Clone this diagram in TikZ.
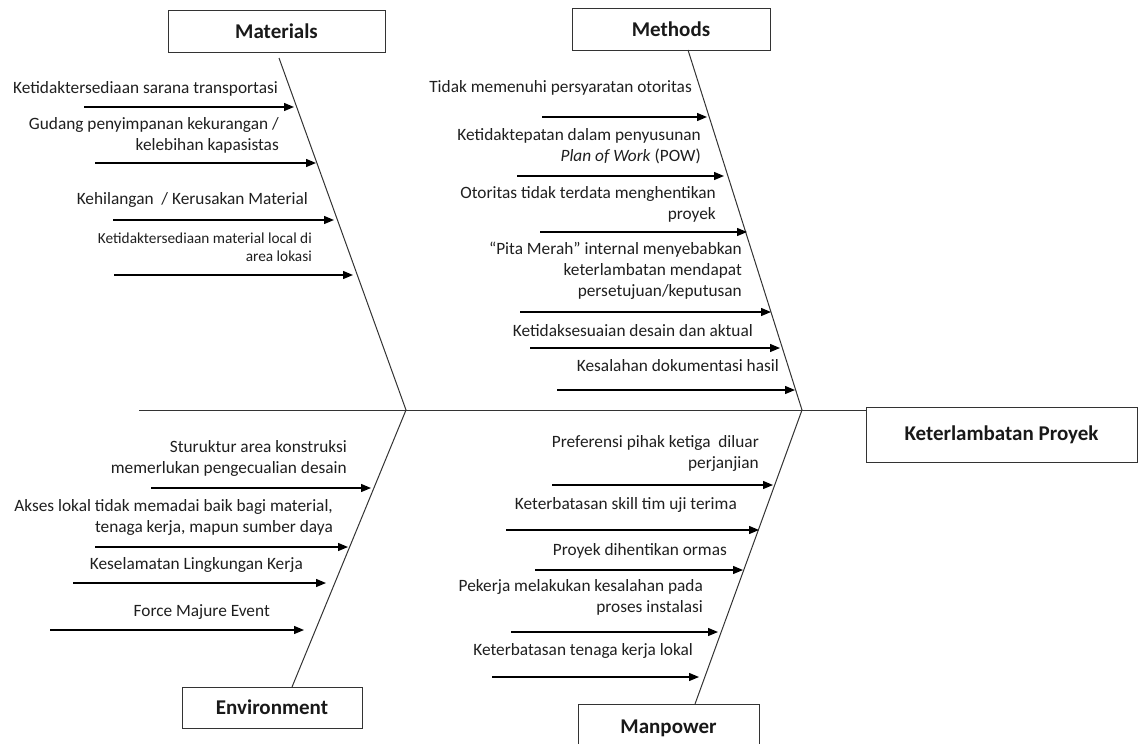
\documentclass[tikz,border=0pt]{standalone}
\usepackage{fontspec}
\setmainfont{Carlito}
\usetikzlibrary{arrows.meta}
\begin{document}
\begin{tikzpicture}[x=1pt,y=-1pt,
  catbox/.style={draw=black!80,line width=1pt,rectangle,inner sep=0pt,font=\fontsize{21}{24}\selectfont\bfseries,text=black!90},
  bone/.style={draw=black!80,line width=1pt},
  cause/.style={-{Triangle[length=10pt,width=8pt]},line width=1.3pt,draw=black},
  lbl/.style={anchor=east,align=right,inner sep=0pt,font=\fontsize{17.3}{21}\selectfont,text=black!88},
  slbl/.style={anchor=east,align=right,inner sep=0pt,font=\fontsize{15.3}{18}\selectfont,text=black!88}]
\useasboundingbox (0,0) rectangle (1141,744);
% category boxes
\node[catbox,minimum width=217pt,minimum height=42pt] (mat) at (276.5,31) {Materials};
\node[catbox,minimum width=198pt,minimum height=42pt] (met) at (671,29) {Methods};
\node[catbox,minimum width=180pt,minimum height=41pt] (env) at (272,707.5) {Environment};
\node[catbox,minimum width=181pt,minimum height=48pt] (man) at (668.5,728) {Manpower};
\node[catbox,minimum width=271pt,minimum height=55pt] (res) at (1001.5,434.5) {Keterlambatan Proyek};
% spine and bones
\coordinate (tail) at (139,410);
\coordinate (j1) at (406,410);
\coordinate (j2) at (802,410);
\coordinate (head) at (866,410);
\coordinate (mtop) at (279,58);
\coordinate (etop) at (292,687);
\coordinate (ttop) at (688,50);
\coordinate (ptop) at (695,704);
\draw[bone] (tail) -- (head);
\draw[bone] (mtop) -- (j1) -- (etop);
\draw[bone] (ttop) -- (j2) -- (ptop);
% Materials causes
\node[lbl] (ma1) at (278,89) {Ketidaktersediaan sarana transportasi};
\node[lbl] (ma2) at (279,135.5) {Gudang penyimpanan kekurangan /\\kelebihan kapasistas};
\node[lbl] (ma3) at (308,200) {Kehilangan\ \ / Kerusakan Material};
\node[slbl] (ma4) at (312,247) {Ketidaktersediaan material local di\\area lokasi};
\coordinate (ma1s) at (84,107);  \coordinate (ma1e) at (294,107);
\coordinate (ma2s) at (95,163);  \coordinate (ma2e) at (316,163);
\coordinate (ma3s) at (113,220); \coordinate (ma3e) at (334,220);
\coordinate (ma4s) at (114,275); \coordinate (ma4e) at (353,275);
\draw[cause] (ma1s) -- (ma1e);
\draw[cause] (ma2s) -- (ma2e);
\draw[cause] (ma3s) -- (ma3e);
\draw[cause] (ma4s) -- (ma4e);
% Methods causes
\node[lbl] (me1) at (692,88) {Tidak memenuhi persyaratan otoritas};
\node[lbl] (me2) at (701,146.5) {Ketidaktepatan dalam penyusunan\\\textit{Plan of Work} (POW)};
\node[lbl] (me3) at (716,204.5) {Otoritas tidak terdata menghentikan\\proyek};
\node[lbl] (me4) at (742,271) {“Pita Merah” internal menyebabkan\\keterlambatan mendapat\\persetujuan/keputusan};
\node[lbl] (me5) at (753,331) {Ketidaksesuaian desain dan aktual};
\node[lbl] (me6) at (779,366) {Kesalahan dokumentasi hasil};
\coordinate (me1s) at (542,117); \coordinate (me1e) at (707,117);
\coordinate (me2s) at (517,176); \coordinate (me2e) at (724,176);
\coordinate (me3s) at (540,232); \coordinate (me3e) at (747,232);
\coordinate (me4s) at (520,312); \coordinate (me4e) at (771,312);
\coordinate (me5s) at (530,348); \coordinate (me5e) at (780,348);
\coordinate (me6s) at (557,390); \coordinate (me6e) at (795,390);
\draw[cause] (me1s) -- (me1e);
\draw[cause] (me2s) -- (me2e);
\draw[cause] (me3s) -- (me3e);
\draw[cause] (me4s) -- (me4e);
\draw[cause] (me5s) -- (me5e);
\draw[cause] (me6s) -- (me6e);
% Environment causes
\node[lbl] (en1) at (347,458.5) {Sturuktur area konstruksi\\memerlukan pengecualian desain};
\node[lbl] (en2) at (333,517) {Akses lokal tidak memadai baik bagi material,\\tenaga kerja, mapun sumber daya};
\node[lbl] (en3) at (303,565) {Keselamatan Lingkungan Kerja};
\node[lbl] (en4) at (270,612) {Force Majure Event};
\coordinate (en1s) at (151,488); \coordinate (en1e) at (371,488);
\coordinate (en2s) at (95,547);  \coordinate (en2e) at (348,547);
\coordinate (en3s) at (73,583);  \coordinate (en3e) at (326,583);
\coordinate (en4s) at (50,630);  \coordinate (en4e) at (304,630);
\draw[cause] (en1s) -- (en1e);
\draw[cause] (en2s) -- (en2e);
\draw[cause] (en3s) -- (en3e);
\draw[cause] (en4s) -- (en4e);
% Manpower causes
\node[lbl] (mp1) at (759,453) {Preferensi pihak ketiga\ \ diluar\\perjanjian};
\node[lbl] (mp2) at (737,505) {Keterbatasan skill tim uji terima};
\node[lbl] (mp3) at (727,551) {Proyek dihentikan ormas};
\node[lbl] (mp4) at (703,597.5) {Pekerja melakukan kesalahan pada\\proses instalasi};
\node[lbl] (mp5) at (693,651) {Keterbatasan tenaga kerja lokal};
\coordinate (mp1s) at (552,485); \coordinate (mp1e) at (773,485);
\coordinate (mp2s) at (506,530); \coordinate (mp2e) at (759,530);
\coordinate (mp3s) at (535,570); \coordinate (mp3e) at (743,570);
\coordinate (mp4s) at (511,632); \coordinate (mp4e) at (718,632);
\coordinate (mp5s) at (492,677); \coordinate (mp5e) at (699,677);
\draw[cause] (mp1s) -- (mp1e);
\draw[cause] (mp2s) -- (mp2e);
\draw[cause] (mp3s) -- (mp3e);
\draw[cause] (mp4s) -- (mp4e);
\draw[cause] (mp5s) -- (mp5e);
\end{tikzpicture}
\end{document}
